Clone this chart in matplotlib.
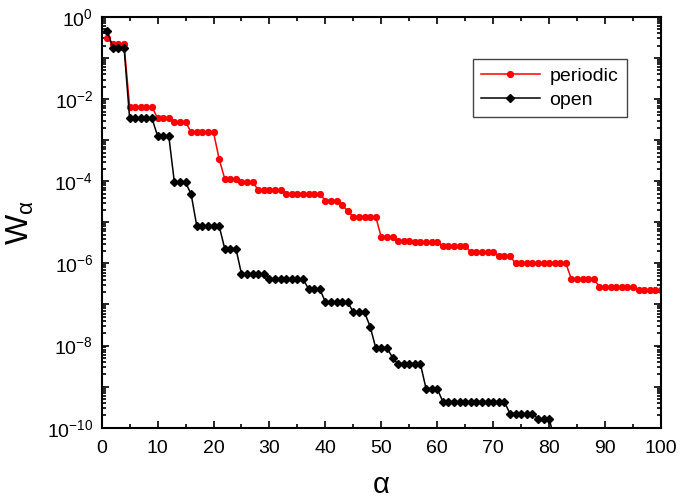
import numpy as np
import matplotlib
matplotlib.use("Agg")
import matplotlib.pyplot as plt
from matplotlib.ticker import LogLocator, FuncFormatter, MultipleLocator

plt.rcParams["font.family"] = ["Liberation Sans", "DejaVu Sans"]
plt.rcParams["mathtext.fontset"] = "custom"
plt.rcParams["mathtext.rm"] = "Liberation Sans"
plt.rcParams["mathtext.it"] = "Liberation Sans"
plt.rcParams["mathtext.bf"] = "Liberation Sans:bold"

# weights, alpha = 1..100
alpha_periodic = np.arange(1, 101)
w_periodic = [
    0.31, 0.216, 0.216, 0.216,
    6.5e-3, 6.5e-3, 6.5e-3, 6.5e-3, 6.5e-3,
    3.4e-3, 3.4e-3, 3.4e-3,
    2.8e-3, 2.8e-3, 2.8e-3,
    1.55e-3, 1.55e-3, 1.55e-3, 1.55e-3, 1.55e-3,
    3.5e-4,
    1.15e-4, 1.15e-4, 1.15e-4,
    9.6e-5, 9.6e-5, 9.6e-5,
    6.1e-5, 6.1e-5, 6.1e-5, 6.1e-5, 6.1e-5,
    4.9e-5, 4.9e-5, 4.9e-5, 4.9e-5, 4.9e-5, 4.9e-5, 4.9e-5,
    3.4e-5, 3.4e-5, 3.4e-5,
    2.7e-5,
    1.87e-5,
    1.37e-5, 1.37e-5, 1.37e-5, 1.37e-5, 1.37e-5,
    4.3e-6, 4.3e-6, 4.3e-6,
    3.6e-6, 3.6e-6, 3.6e-6,
    3.3e-6, 3.3e-6, 3.3e-6, 3.3e-6, 3.3e-6,
    2.65e-6, 2.65e-6, 2.65e-6, 2.65e-6, 2.65e-6,
    1.9e-6, 1.9e-6, 1.9e-6, 1.9e-6, 1.9e-6,
    1.52e-6, 1.52e-6, 1.52e-6,
    1.0e-6, 1.0e-6, 1.0e-6, 1.0e-6, 1.0e-6, 1.0e-6, 1.0e-6, 1.0e-6, 1.0e-6, 1.0e-6,
    4.1e-7, 4.1e-7, 4.1e-7, 4.1e-7, 4.1e-7,
    2.7e-7, 2.7e-7, 2.7e-7, 2.7e-7, 2.7e-7, 2.7e-7, 2.7e-7,
    2.2e-7, 2.2e-7, 2.2e-7, 2.2e-7, 2.2e-7,
]

alpha_open = np.arange(1, 82)
w_open = [
    0.46, 0.18, 0.18, 0.18,
    3.4e-3, 3.4e-3, 3.4e-3, 3.4e-3, 3.4e-3,
    1.26e-3, 1.26e-3, 1.26e-3,
    9.4e-5, 9.4e-5, 9.4e-5,
    4.8e-5,
    8.2e-6, 8.2e-6, 8.2e-6, 8.2e-6, 8.2e-6,
    2.3e-6, 2.3e-6, 2.3e-6,
    5.5e-7, 5.5e-7, 5.5e-7, 5.5e-7, 5.5e-7,
    4.2e-7, 4.2e-7, 4.2e-7, 4.2e-7, 4.2e-7, 4.2e-7, 4.2e-7,
    2.37e-7, 2.37e-7, 2.37e-7,
    1.15e-7, 1.15e-7, 1.15e-7, 1.15e-7, 1.15e-7,
    6.4e-8, 6.4e-8, 6.4e-8,
    2.9e-8,
    8.8e-9, 8.8e-9, 8.8e-9,
    5.1e-9,
    3.5e-9, 3.5e-9, 3.5e-9, 3.5e-9, 3.5e-9,
    8.9e-10, 8.9e-10, 8.9e-10,
    4.3e-10, 4.3e-10, 4.3e-10, 4.3e-10, 4.3e-10, 4.3e-10,
    4.3e-10, 4.3e-10, 4.3e-10, 4.3e-10, 4.3e-10, 4.3e-10,
    2.2e-10, 2.2e-10, 2.2e-10, 2.2e-10, 2.2e-10,
    1.66e-10, 1.66e-10, 1.66e-10,
    5e-11,
]

fig = plt.figure(figsize=(6.81, 5.03), dpi=100)
ax = fig.add_axes([0.1493, 0.1497, 0.8213, 0.8165])

ax.plot(alpha_periodic, w_periodic, color="red", marker="o", markersize=4.2,
        linewidth=1.1, label="periodic")
ax.plot(alpha_open, w_open, color="black", marker="D", markersize=4.2,
        linewidth=1.1, label="open")

ax.set_yscale("log")
ax.set_xlim(0, 100)
ax.set_ylim(1e-10, 1)

ax.xaxis.set_major_locator(MultipleLocator(10))
ax.xaxis.set_minor_locator(MultipleLocator(5))
ax.yaxis.set_major_locator(LogLocator(base=10, subs=(1.0,), numticks=20))
ax.yaxis.set_minor_locator(LogLocator(base=10, subs=np.arange(2, 10), numticks=20))


def decade_label(v, pos):
    e = int(round(np.log10(v)))
    if e % 2 != 0:
        return ""
    return r"$\mathregular{10^{%d}}$" % e


ax.yaxis.set_major_formatter(FuncFormatter(decade_label))

ax.tick_params(which="both", direction="in", top=True, right=True,
               width=1.2, labelsize=14)
ax.tick_params(which="major", length=5, pad=6)
ax.tick_params(axis="x", which="major", pad=9)
ax.tick_params(which="minor", length=3)
for s in ax.spines.values():
    s.set_linewidth(1.5)

ax.set_xlabel(r"$\mathregular{\alpha}$", fontsize=21, labelpad=10)
ax.set_ylabel(r"W$_{\mathregular{\alpha}}$", fontsize=23, labelpad=8)

leg = ax.legend(loc="upper right", bbox_to_anchor=(0.939, 0.898), numpoints=1,
                fontsize=14, handlelength=3.0, fancybox=False, framealpha=1,
                edgecolor="#444444", borderpad=0.45, labelspacing=0.3,
                handletextpad=0.5, borderaxespad=0)
leg.get_frame().set_linewidth(1.0)

fig.savefig("out.png", dpi=100)
